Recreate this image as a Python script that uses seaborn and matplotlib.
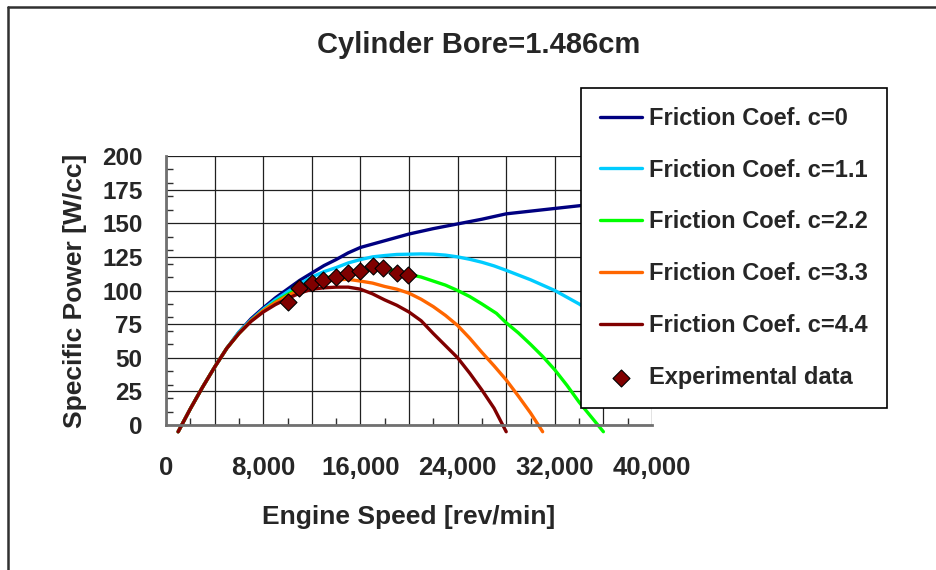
import numpy as np
import pandas as pd
import seaborn as sns
import matplotlib.pyplot as plt
from matplotlib.ticker import MultipleLocator, FuncFormatter
from matplotlib.lines import Line2D

# speed [rev/min] and specific power [W/cc]
rpm_c0 = [1000, 2000, 3000, 4000, 5000, 6000, 7000, 8000, 9000, 10000, 11000, 12000, 13000,
          14000, 15000, 16000, 17000, 18000, 20000, 22000, 24000, 26000, 28000, 30000,
          32000, 34000, 36000, 38000, 40000]
pow_c0 = [-5, 12, 28, 43, 57, 69, 79, 87, 94.5, 101, 107.5, 113, 118.5,
          123, 128, 132, 134.5, 137, 142, 146, 149.5, 153, 157, 159,
          161, 163, 165, 166, 168]

rpm_c11 = [1000, 2000, 3000, 4000, 5000, 6000, 7000, 8000, 9000, 10000, 11000, 12000, 13000,
           14000, 15000, 16000, 17000, 18000, 19000, 20000, 21000, 22000, 23000, 24000,
           25000, 26000, 27000, 28000, 30000, 32000, 34000, 36000, 38000, 40000]
pow_c11 = [-5, 12, 28, 43, 57, 69, 78, 86, 93, 99, 105, 110, 114,
           117, 120.5, 123, 125, 126, 126.8, 127, 127.2, 127, 126.3, 125,
           123.2, 121, 118.3, 115, 108, 100, 90, 78, 64, 48]

rpm_c22 = [1000, 2000, 3000, 4000, 5000, 6000, 7000, 8000, 9000, 10000, 11000, 12000, 13000,
           14000, 15000, 16000, 17000, 18000, 19000, 20000, 21000, 22000, 23000, 24000,
           25000, 26000, 27200, 28000, 29000, 30000, 31000, 32000, 33000, 34000, 35000, 36000]
pow_c22 = [-5, 12, 28, 43, 57, 68, 77.5, 85, 91.5, 97, 102, 106, 109,
           111, 113, 114.5, 115.5, 116, 114.5, 112, 110, 107, 104, 100,
           95.5, 90, 83, 76, 68.5, 60, 51, 41, 29.5, 17, 6, -5]

rpm_c33 = [1000, 2000, 3000, 4000, 5000, 6000, 7000, 8000, 9000, 10000, 11000, 12000, 13000,
           14000, 15000, 16000, 17000, 18000, 19000, 20000, 21000, 22000, 23000, 24000,
           25000, 26000, 27000, 28000, 29000, 30000, 31000]
pow_c33 = [-5, 12, 28, 43, 57, 68, 77.5, 85, 91, 96, 100.5, 104, 106.5,
           108, 108.3, 107, 105.5, 103, 101, 98, 93.5, 88, 81.5, 74,
           64.5, 54, 44, 33.5, 21.5, 9, -5]

rpm_c44 = [1000, 2000, 3000, 4000, 5000, 6000, 7000, 8000, 9000, 10000, 11000, 12000, 13000,
           14000, 15000, 16000, 17000, 18000, 19000, 20000, 21000, 22000, 23000, 24000,
           25000, 26000, 27000, 28000]
pow_c44 = [-5, 12, 28, 43, 57, 68, 77, 84, 89.5, 94, 98, 101, 102,
           102.5, 102.5, 101, 97.5, 93, 89, 84, 77.5, 68, 59, 50,
           38.5, 26, 12.5, -5]

exp_rpm = [10000, 10950, 12000, 12900, 14000, 15000, 16000, 17000, 17900, 19000, 19900]
exp_pow = [91.5, 102, 105.5, 108, 110, 113, 114.5, 118, 116.5, 113, 111.5]

labels = ['Friction Coef. c=0', 'Friction Coef. c=1.1', 'Friction Coef. c=2.2',
          'Friction Coef. c=3.3', 'Friction Coef. c=4.4']
colors = ['#000080', '#00CCFF', '#00FF00', '#FF6600', '#800000']

frames = []
for lab, xs, ys in zip(labels, [rpm_c0, rpm_c11, rpm_c22, rpm_c33, rpm_c44],
                       [pow_c0, pow_c11, pow_c22, pow_c33, pow_c44]):
    frames.append(pd.DataFrame({'rpm': xs, 'power': ys, 'series': lab}))
df = pd.concat(frames, ignore_index=True)
df_exp = pd.DataFrame({'rpm': exp_rpm, 'power': exp_pow})

sns.set_style('white')
plt.rcParams['font.family'] = ['Liberation Sans', 'DejaVu Sans']
plt.rcParams['font.weight'] = 'bold'

fig = plt.figure(figsize=(9.37, 5.70), dpi=100)
ax = fig.add_axes([166 / 937, 1 - 425 / 570, 486 / 937, 269 / 570])

sns.lineplot(data=df, x='rpm', y='power', hue='series', hue_order=labels,
             palette=colors, linewidth=2.4, sort=False, estimator=None, ax=ax)
for ln in ax.get_lines():
    ln.set_clip_on(False)
sns.scatterplot(data=df_exp, x='rpm', y='power', marker='D', s=75, color='#800000',
                edgecolor='black', linewidth=0.8, zorder=5, label='Experimental data', ax=ax)

ax.set_xlim(0, 40000)
ax.set_ylim(0, 200)
ax.xaxis.set_major_locator(MultipleLocator(4000))
ax.xaxis.set_minor_locator(MultipleLocator(2000))
ax.yaxis.set_major_locator(MultipleLocator(25))
ax.yaxis.set_minor_locator(MultipleLocator(10))
ax.xaxis.set_major_formatter(FuncFormatter(lambda v, p: f'{int(v):,}' if v % 8000 == 0 else ''))
ax.grid(True, which='major', color='#202020', linewidth=0.9)
ax.tick_params(axis='x', which='major', length=0, pad=22, labelsize=18.5)
ax.tick_params(axis='y', which='major', length=0, pad=17, labelsize=17.5)
ax.tick_params(which='minor', direction='in', length=5, width=1, color='#303030',
               bottom=True, left=True)
for side in ['top', 'right']:
    ax.spines[side].set_visible(False)
for side in ['left', 'bottom']:
    ax.spines[side].set_color('#707070')
    ax.spines[side].set_linewidth(2)

ax.set_xlabel('Engine Speed [rev/min]', fontsize=19, fontweight='bold', labelpad=18)
ax.set_ylabel('Specific Power [W/cc]', fontsize=19, fontweight='bold', labelpad=11)

fig.text(479 / 937, 1 - 45 / 570, 'Cylinder Bore=1.486cm', fontsize=21, fontweight='bold',
         ha='center', va='center')

handles, labs = ax.get_legend_handles_labels()
leg = ax.legend(handles, labs, loc='upper left', bbox_to_anchor=(581 / 937, 1 - 88 / 570),
                bbox_transform=fig.transFigure, fontsize=17, frameon=True, fancybox=False,
                edgecolor='black', framealpha=1, handlelength=1.8, handletextpad=0.3,
                labelspacing=1.22, borderpad=0.8, borderaxespad=0)
leg.get_frame().set_linewidth(1.2)
for h in leg.legend_handles:
    if isinstance(h, Line2D):
        h.set_linewidth(2.4)

# outer chart border
fig.add_artist(Line2D([8 / 937, 1], [1 - 7 / 570, 1 - 7 / 570], transform=fig.transFigure,
                      color='#303030', linewidth=1.8))
fig.add_artist(Line2D([8 / 937, 8 / 937], [0, 1 - 7 / 570], transform=fig.transFigure,
                      color='#303030', linewidth=1.8))

plt.savefig('out.png', dpi=100)
